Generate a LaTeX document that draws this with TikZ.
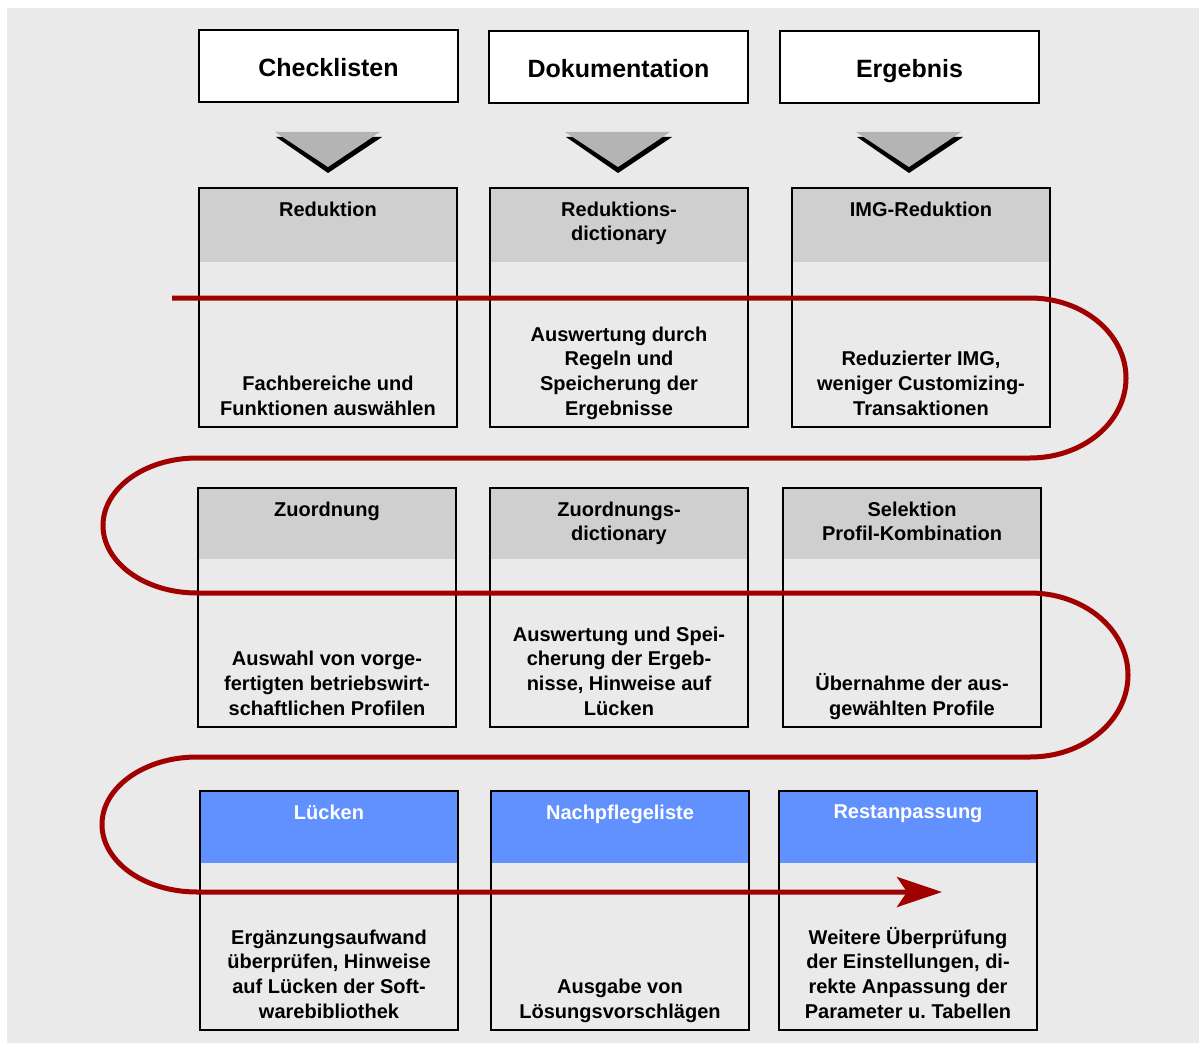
\documentclass[tikz,border=0pt]{standalone}
\usepackage{fontspec}
\setmainfont{Liberation Sans}
\usetikzlibrary{arrows.meta}
\definecolor{bg}{HTML}{EAEAEA}
\definecolor{headgray}{HTML}{CFCFCF}
\definecolor{headblue}{HTML}{6190FF}
\definecolor{chevgray}{HTML}{B4B4B4}
\definecolor{flowred}{HTML}{A00000}
\begin{document}
\frenchspacing
\begin{tikzpicture}[x=1pt,y=1pt,
  topbox/.style={draw=black,line width=2pt,fill=white,minimum width=259pt,minimum height=72pt,
    inner sep=0pt,anchor=north west,font=\fontsize{25}{30}\selectfont\bfseries,
    text height=21pt,text depth=0pt},
  stagebox/.style={draw=black,line width=2pt,fill=bg,minimum width=258pt,minimum height=239pt,
    inner sep=0pt,anchor=north west},
  grayhead/.style={stagebox,path picture={\fill[headgray] (path picture bounding box.north west)
    rectangle ([yshift=-#1]path picture bounding box.north east);}},
  bluehead/.style={stagebox,path picture={\fill[headblue] (path picture bounding box.north west)
    rectangle ([yshift=-#1]path picture bounding box.north east);}},
  titletext/.style={anchor=north,align=center,inner sep=0pt,
    font=\fontsize{20}{24}\selectfont\bfseries},
  bodytext/.style={anchor=south,align=center,inner sep=0pt,
    font=\fontsize{20}{24.6}\selectfont\bfseries},
  flow/.style={draw=flowred,line width=5pt},
  chevshadow/.style={fill=black},
  chevface/.style={fill=chevgray}
]
\useasboundingbox (0,0) rectangle (1199,-1043);
\fill[bg] (7,-8) rectangle (1199,-1043);

% top boxes
\node[topbox] (h1) at (198,-29.5) {Checklisten};
\node[topbox] (h2) at (488,-30.5) {Dokumentation};
\node[topbox] (h3) at (779,-30.5) {Ergebnis};

% chevrons
\foreach \cx in {328,618,909}{
  \fill[chevshadow] (\cx-52,-137) -- (\cx+54,-137) -- (\cx,-173) -- cycle;
  \fill[chevface] (\cx-53,-132) -- (\cx+52,-132) -- (\cx,-167) -- cycle;
}

% row 1
\node[grayhead=74pt] (b11) at (198,-187) {};
\node[grayhead=74pt] (b12) at (489,-187) {};
\node[grayhead=74pt] (b13) at (791,-187) {};
% row 2
\node[grayhead=71pt] (b21) at (197,-487) {};
\node[grayhead=71pt] (b22) at (489,-487) {};
\node[grayhead=71pt] (b23) at (782,-487) {};
% row 3
\node[bluehead=72pt] (b31) at (199,-790) {};
\node[bluehead=72pt] (b32) at (490,-790) {};
\node[bluehead=72pt] (b33) at (778,-790) {};

% titles
\node[titletext] (t11) at ([yshift=-15pt]b11.north) {Reduktion};
\node[titletext] (t12) at ([yshift=-15pt]b12.north) {Reduktions-\\dictionary};
\node[titletext] (t13) at ([yshift=-15pt]b13.north) {IMG-Reduktion};
\node[titletext] (t21) at ([yshift=-15pt]b21.north) {Zuordnung};
\node[titletext] (t22) at ([yshift=-15pt]b22.north) {Zuordnungs-\\dictionary};
\node[titletext] (t23) at ([yshift=-15pt]b23.north) {Selektion\\Profil-Kombination};
\node[titletext,text=white] (t31) at ([yshift=-15pt]b31.north) {Lücken};
\node[titletext,text=white] (t32) at ([yshift=-15pt]b32.north) {Nachpflegeliste};
\node[titletext,text=white] (t33) at ([yshift=-15pt]b33.north) {Restanpassung};

% body texts
\node[bodytext] (d11) at ([yshift=8.5pt]b11.south) {Fachbereiche und\\Funktionen auswählen\vphantom{g}};
\node[bodytext] (d12) at ([yshift=8.5pt]b12.south) {Auswertung durch\\Regeln und\\Speicherung der\\Ergebnisse\vphantom{g}};
\node[bodytext] (d13) at ([yshift=8.5pt]b13.south) {Reduzierter IMG,\\weniger Customizing-\\Transaktionen\vphantom{g}};
\node[bodytext] (d21) at ([yshift=8.5pt]b21.south) {Auswahl von vorge-\\fertigten betriebswirt-\\schaftlichen Profilen\vphantom{g}};
\node[bodytext] (d22) at ([yshift=8.5pt]b22.south) {Auswertung und Spei-\\cherung der Ergeb-\\nisse, Hinweise auf\\Lücken\vphantom{g}};
\node[bodytext] (d23) at ([yshift=8.5pt]b23.south) {Übernahme der aus-\\gewählten Profile\vphantom{g}};
\node[bodytext] (d31) at ([yshift=8.5pt]b31.south) {Ergänzungsaufwand\\überprüfen, Hinweise\\auf Lücken der Soft-\\warebibliothek\vphantom{g}};
\node[bodytext] (d32) at ([yshift=8.5pt]b32.south) {Ausgabe von\\Lösungsvorschlägen\vphantom{g}};
\node[bodytext] (d33) at ([yshift=8.5pt]b33.south) {Weitere Überprüfung\\der Einstellungen, di-\\rekte Anpassung der\\Parameter u. Tabellen\vphantom{g}};

% flow line
\coordinate (fstart) at (172,-298);
\coordinate (fend) at (942,-892);
\draw[flow,-{Stealth[length=45pt,width=30pt,inset=10pt]}] (fstart) -- (1030,-298)
  arc[start angle=90,end angle=-90,x radius=96pt,y radius=80pt]
  -- (197,-458)
  arc[start angle=90,end angle=270,x radius=94pt,y radius=67.5pt]
  -- (1030,-593)
  arc[start angle=90,end angle=-90,x radius=98pt,y radius=82pt]
  -- (197,-757)
  arc[start angle=90,end angle=270,x radius=95pt,y radius=67.5pt]
  -- (fend);
\end{tikzpicture}
\end{document}
